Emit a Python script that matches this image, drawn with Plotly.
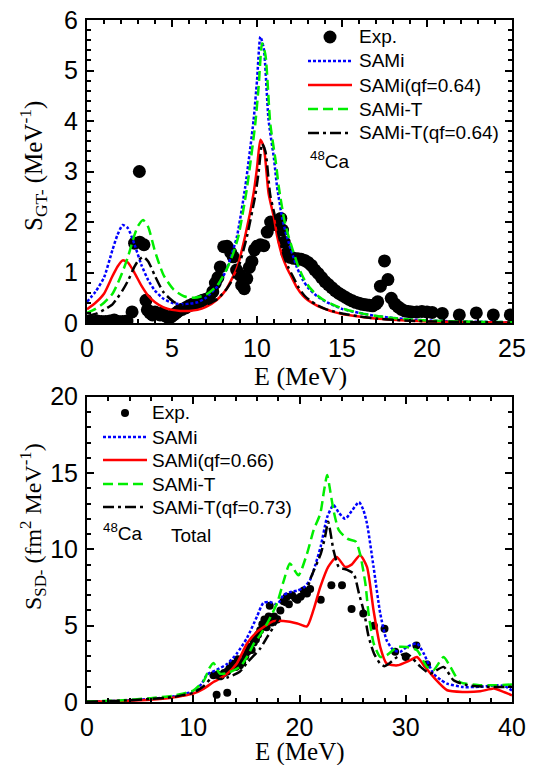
import plotly.graph_objects as go

# ---------------- Top panel data (GT-) ----------------
E_gt_sami = [0, 0.5, 1.0, 1.5, 1.8, 2.1, 2.4, 2.8, 3.2, 3.6, 4.0, 4.5, 5.0, 5.5, 6.0, 6.5, 7.0, 7.65, 8.2,
             8.53, 8.82, 9.31, 9.8, 10.0, 10.2, 10.4, 10.68, 11.0, 11.18, 11.5, 11.76, 12.0, 12.35, 12.7,
             13.0, 13.5, 14.0, 14.5, 15.0, 16.0, 17.0, 18.0, 19.0, 20.0, 22.0, 25.0]
S_gt_sami = [0.42, 0.62, 0.9, 1.45, 1.75, 1.94, 1.88, 1.55, 1.15, 0.85, 0.64, 0.48, 0.4, 0.37, 0.38, 0.41,
             0.5, 0.72, 1.05, 1.38, 1.71, 2.7, 4.02, 4.8, 5.67, 5.43, 4.02, 3.25, 2.7, 2.05, 1.71, 1.45,
             1.1, 0.85, 0.7, 0.54, 0.43, 0.35, 0.28, 0.2, 0.14, 0.1, 0.07, 0.05, 0.03, 0.015]
S_gt_sami_qf = [0.27, 0.4, 0.58, 0.93, 1.12, 1.24, 1.2, 0.99, 0.74, 0.54, 0.41, 0.31, 0.26, 0.24, 0.24, 0.26,
                0.32, 0.46, 0.67, 0.88, 1.09, 1.73, 2.57, 3.07, 3.63, 3.48, 2.57, 2.08, 1.73, 1.31, 1.09,
                0.93, 0.7, 0.54, 0.45, 0.35, 0.28, 0.22, 0.18, 0.13, 0.09, 0.064, 0.045, 0.032, 0.019, 0.01]

E_gt_samit = [0, 0.5, 1.0, 1.5, 1.8, 2.1, 2.4, 2.8, 3.0, 3.3, 3.6, 4.0, 4.5, 5.1, 5.7, 6.3, 7.0, 7.65, 8.2,
              8.6, 8.9, 9.4, 9.9, 10.1, 10.3, 10.5, 10.78, 11.1, 11.28, 11.6, 11.86, 12.1, 12.45, 12.8,
              13.1, 13.5, 14.0, 14.5, 15.0, 16.0, 17.0, 18.0, 19.0, 20.0, 22.0, 25.0]
S_gt_samit = [0.2, 0.28, 0.4, 0.58, 0.78, 1.02, 1.3, 1.75, 1.92, 2.04, 1.9, 1.42, 0.95, 0.66, 0.53, 0.5,
              0.56, 0.74, 1.05, 1.38, 1.71, 2.65, 3.95, 4.7, 5.54, 5.3, 3.95, 3.2, 2.7, 2.05, 1.71, 1.45,
              1.1, 0.85, 0.7, 0.56, 0.44, 0.36, 0.29, 0.2, 0.14, 0.1, 0.07, 0.05, 0.03, 0.015]
S_gt_samit_qf = [0.14, 0.18, 0.26, 0.37, 0.5, 0.65, 0.83, 1.12, 1.23, 1.31, 1.22, 0.93, 0.61, 0.42, 0.34,
                 0.32, 0.36, 0.47, 0.67, 0.88, 1.09, 1.7, 2.53, 3.0, 3.55, 3.39, 2.53, 2.05, 1.73, 1.31,
                 1.09, 0.93, 0.7, 0.54, 0.45, 0.36, 0.28, 0.23, 0.19, 0.13, 0.09, 0.064, 0.045, 0.032,
                 0.019, 0.01]

E_gt_exp = [0.1, 0.35, 0.6, 0.85, 1.1, 1.35, 1.6, 1.85, 2.1, 2.35, 2.65, 2.8, 3.08, 3.1, 3.35, 3.47, 3.55,
            3.7, 3.85, 4.0, 4.15, 4.3, 4.45, 4.6, 4.8, 4.95, 5.1, 5.25, 5.4, 5.6, 5.8, 6.0, 6.2, 6.4, 6.6,
            6.8, 7.0, 7.2, 7.4, 7.55, 7.7, 7.84, 8.04, 8.24, 8.45, 8.6, 8.8, 9.0, 9.1, 9.25, 9.4, 9.55,
            9.7, 9.85, 10.0, 10.2, 10.4, 10.6, 10.8, 11.0, 11.2, 11.4, 11.5, 11.6, 11.76, 11.96, 12.16,
            12.4, 12.6, 12.8, 13.0, 13.2, 13.4, 13.6, 13.8, 14.0, 14.2, 14.4, 14.6, 14.8, 15.0, 15.2,
            15.4, 15.6, 15.8, 16.0, 16.2, 16.4, 16.6, 16.8, 17.0, 17.1, 17.26, 17.5, 17.7, 17.9, 18.1,
            18.3, 18.5, 18.7, 18.9, 19.1, 19.4, 19.7, 20.0, 20.3, 20.9, 21.9, 22.9, 23.9, 24.9]
S_gt_exp = [0.03, 0.03, 0.04, 0.03, 0.03, 0.04, 0.06, 0.03, 0.03, 0.04, 0.22, 1.58, 3.0, 1.6, 1.55, 0.45,
            0.26, 0.2, 0.16, 0.22, 0.18, 0.16, 0.2, 0.14, 0.1, 0.12, 0.16, 0.2, 0.24, 0.27, 0.3, 0.34,
            0.37, 0.39, 0.42, 0.45, 0.47, 0.5, 0.62, 0.79, 0.9, 1.11, 1.51, 1.52, 1.4, 1.31, 1.05, 0.95,
            0.75, 0.68, 0.88, 1.1, 1.22, 1.45, 1.52, 1.55, 1.53, 1.8, 2.0, 1.95, 2.0, 2.07, 1.84, 1.6,
            1.38, 1.3, 1.28, 1.27, 1.26, 1.24, 1.2, 1.14, 1.05, 0.98, 0.9, 0.82, 0.76, 0.7, 0.64, 0.59,
            0.55, 0.51, 0.47, 0.44, 0.41, 0.39, 0.37, 0.36, 0.35, 0.34, 0.38, 0.42, 0.73, 1.23, 0.86,
            0.49, 0.38, 0.32, 0.27, 0.24, 0.23, 0.22, 0.22, 0.23, 0.22, 0.21, 0.19, 0.16, 0.2, 0.16, 0.16]

# ---------------- Bottom panel data (SD-) ----------------
E_sd_sami = [0, 3, 6, 8, 9, 10, 10.8, 11.3, 12.2, 13.2, 14.1, 15.06, 16.0, 16.6, 17.2, 17.9, 18.5, 19.1,
             19.8, 20.4, 21.0, 21.5, 22.0, 22.6, 23.2, 23.7, 24.3, 24.9, 25.6, 26.0, 26.35, 26.97, 27.6,
             28.2, 28.85, 29.5, 30.1, 31.06, 31.7, 32.6, 33.3, 33.9, 35.4, 37.0, 38.6, 39.3, 40.0]
S_sd_sami = [0.02, 0.08, 0.2, 0.35, 0.5, 0.7, 1.2, 1.8, 2.1, 2.5, 3.17, 4.2, 5.6, 6.5, 6.55, 6.4, 7.0,
             7.2, 7.3, 7.5, 8.0, 9.0, 10.2, 12.1, 12.9, 12.4, 12.0, 12.5, 13.1, 12.6, 11.7, 8.85, 5.8,
             4.05, 3.39, 3.3, 3.6, 3.83, 3.17, 1.86, 1.45, 1.2, 0.98, 1.0, 1.1, 1.05, 0.75]

E_sd_sami_qf = [0, 3, 6, 8, 9, 10, 11.0, 11.9, 12.5, 13.2, 14.1, 15.06, 16.0, 16.6, 17.56, 18.5, 19.8,
                20.7, 21.3, 21.96, 22.7, 23.5, 24.3, 24.9, 25.7, 26.35, 26.97, 27.6, 28.2, 29.2, 30.4,
                31.06, 31.7, 32.6, 33.9, 35.4, 37.0, 38.3, 39.2, 40.0]
S_sd_sami_qf = [0.02, 0.06, 0.15, 0.28, 0.4, 0.55, 0.88, 1.31, 1.53, 1.86, 2.52, 3.83, 4.6, 4.9, 5.3, 5.3,
                5.14, 4.95, 6.0, 7.54, 8.85, 9.5, 8.85, 9.0, 9.62, 8.85, 6.0, 3.6, 2.52, 2.4, 2.73, 2.95,
                2.4, 1.64, 0.77, 0.66, 0.7, 0.88, 0.66, 0.44]

E_sd_samit = [0, 3, 6, 8, 9, 10, 11.0, 11.5, 11.9, 12.5, 13.2, 14.4, 15.1, 15.7, 16.3, 17.0, 17.9, 18.5,
              19.1, 19.9, 20.7, 21.33, 21.96, 22.3, 22.6, 22.9, 23.2, 23.7, 24.5, 25.3, 25.7, 26.2, 26.5,
              27.0, 27.6, 28.2, 29.2, 30.1, 31.06, 32.0, 32.6, 33.56, 34.2, 35.1, 37.0, 38.5, 40.0]
S_sd_samit = [0.03, 0.1, 0.25, 0.4, 0.55, 0.75, 1.4, 2.2, 2.56, 1.86, 1.9, 2.3, 3.0, 3.83, 4.4, 5.2, 6.5,
              7.9, 9.07, 8.3, 9.7, 11.26, 12.35, 13.8, 14.87, 13.8, 12.57, 11.26, 10.7, 10.5, 9.7, 7.76,
              5.8, 3.8, 2.95, 3.06, 3.6, 3.6, 3.39, 2.3, 2.08, 2.95, 2.3, 1.31, 1.1, 1.1, 1.15]

E_sd_samit_qf = [0, 3, 6, 8, 9, 10, 11.0, 11.9, 12.5, 13.2, 14.4, 15.1, 16.3, 17.0, 17.9, 18.5, 19.1, 19.8,
                 20.4, 21.1, 22.0, 22.4, 22.7, 23.2, 23.7, 24.5, 25.1, 25.6, 26.1, 26.5, 27.0, 27.6, 28.0,
                 28.4, 29.2, 30.1, 31.4, 32.3, 33.56, 34.5, 35.8, 38.3, 40.0]
S_sd_samit_qf = [0.02, 0.08, 0.2, 0.32, 0.45, 0.6, 1.05, 1.7, 1.5, 1.6, 2.0, 2.6, 3.5, 4.3, 5.3, 6.3, 6.9,
                 6.9, 6.9, 8.2, 9.7, 10.8, 11.8, 9.95, 8.85, 8.65, 8.4, 7.1, 5.8, 4.3, 3.2, 2.5, 2.35,
                 2.5, 2.95, 3.17, 2.3, 1.86, 2.3, 1.42, 1.1, 0.98, 1.0]

E_sd_exp = [11.9, 12.2, 12.3, 12.6, 12.9, 13.2, 13.2, 13.4, 13.7, 14.0, 14.2, 14.4, 14.6, 14.9, 15.1, 15.3,
            15.5, 15.7, 15.9, 16.1, 16.3, 16.5, 16.7, 16.9, 17.1, 17.2, 17.4, 17.6, 17.9, 18.2, 18.5, 18.8,
            19.0, 19.3, 19.6, 19.8, 20.1, 20.4, 20.7, 21.0, 22.0, 23.0, 24.0, 24.9, 26.0, 27.0, 28.0,
            29.0, 30.0, 31.0, 32.0]
S_sd_exp = [1.75, 0.48, 1.8, 1.7, 1.9, 2.0, 0.61, 2.2, 2.5, 2.3, 2.8, 2.4, 2.6, 3.0, 3.3, 3.6, 3.4, 3.9,
            4.1, 4.4, 4.7, 5.1, 5.4, 4.9, 5.6, 6.3, 5.2, 5.6, 5.4, 6.0, 6.6, 6.9, 6.4, 7.0, 6.8, 6.7, 6.9,
            7.3, 7.1, 7.4, 6.7, 7.65, 7.65, 6.1, 5.8, 5.0, 4.8, 3.3, 2.95, 3.7, 2.45]

# ---------------- Styles ----------------
BLUE, RED, GREEN, BLACK = "#0000ff", "#ff0000", "#00ee00", "#000000"
DOT, SOLID, DASH, DASHDOT = "3px,2px", "solid", "10px,5px", "11px,4px,3px,4px"
LW = 2.5
SANS = "Liberation Sans, Arial, sans-serif"
SERIF = "Liberation Serif, Times New Roman, serif"

fig = go.Figure()

# top panel
fig.add_trace(go.Scatter(x=E_gt_exp, y=S_gt_exp, mode="markers", name="Exp.",
                         marker=dict(color=BLACK, size=13), xaxis="x", yaxis="y"))
for xs, ys, c, d, n in [(E_gt_sami, S_gt_sami, BLUE, DOT, "SAMi"),
                        (E_gt_sami, S_gt_sami_qf, RED, SOLID, "SAMi(qf=0.64)"),
                        (E_gt_samit, S_gt_samit, GREEN, DASH, "SAMi-T"),
                        (E_gt_samit, S_gt_samit_qf, BLACK, DASHDOT, "SAMi-T(qf=0.64)")]:
    fig.add_trace(go.Scatter(x=xs, y=ys, mode="lines", name=n,
                             line=dict(color=c, width=LW, dash=d, shape="spline", smoothing=0.6),
                             xaxis="x", yaxis="y"))

# bottom panel
fig.add_trace(go.Scatter(x=E_sd_exp, y=S_sd_exp, mode="markers", name="Exp.",
                         marker=dict(color=BLACK, size=8), xaxis="x2", yaxis="y2"))
for xs, ys, c, d, n in [(E_sd_sami, S_sd_sami, BLUE, DOT, "SAMi"),
                        (E_sd_sami_qf, S_sd_sami_qf, RED, SOLID, "SAMi(qf=0.66)"),
                        (E_sd_samit, S_sd_samit, GREEN, DASH, "SAMi-T"),
                        (E_sd_samit_qf, S_sd_samit_qf, BLACK, DASHDOT, "SAMi-T(qf=0.73)")]:
    fig.add_trace(go.Scatter(x=xs, y=ys, mode="lines", name=n,
                             line=dict(color=c, width=LW, dash=d, shape="spline", smoothing=0.6),
                             xaxis="x2", yaxis="y2"))

# ---------------- Layout ----------------
# The page body has an 8px default margin, so the figure is made 8px smaller
# and all screen positions below are given in window pixels.
OFF = 8
W, H = 535 - OFF, 765 - OFF
X0, X1 = 87, 512          # plot area left/right in window pixels
Y0, Y1 = 20, 702          # plot area top/bottom in window pixels
ML, MR, MT, MB = X0 - OFF, W + OFF - X1, Y0 - OFF, H + OFF - Y1
PW, PH = X1 - X0, Y1 - Y0


def px2x(px):
    return (px - X0) / PW


def py2y(py):
    return (Y1 - py) / PH


def axis(rng, dtick, mdtick, domain, anchor):
    return dict(range=rng, domain=domain, anchor=anchor, dtick=dtick, tick0=0, automargin=False,
                showline=True, linecolor="black", linewidth=2, mirror="ticks",
                ticks="inside", ticklen=7, tickwidth=1.5, tickcolor="black",
                minor=dict(ticks="inside", dtick=mdtick, ticklen=4, tickwidth=1.5, tickcolor="black"),
                showgrid=False, zeroline=False, ticklabelstandoff=2, ticklabeloverflow="allow",
                tickfont=dict(family=SANS, size=25, color="black"))


top_dom = [py2y(323), 1.0]
bot_dom = [0.0, py2y(396.7)]

fig.update_layout(
    width=W, height=H, margin=dict(l=ML, r=MR, t=MT, b=MB, autoexpand=False),
    plot_bgcolor="white", paper_bgcolor="white", showlegend=False,
    xaxis=axis([0, 25], 5, 1, [0, 1], "y"),
    yaxis=axis([0, 6], 1, 0.2, top_dom, "x"),
    xaxis2=axis([0, 40], 10, 2, [0, 1], "y2"),
    yaxis2=axis([0, 20], 5, 1, bot_dom, "x2"),
)

ann = []
shapes = []
# axis titles
ann.append(dict(text="E (MeV)", x=px2x(300), y=py2y(376), xref="paper", yref="paper",
                showarrow=False, font=dict(family=SERIF, size=26, color="black"),
                xanchor="center", yanchor="middle"))
ann.append(dict(text="E (MeV)", x=px2x(300), y=py2y(752), xref="paper", yref="paper",
                showarrow=False, font=dict(family=SERIF, size=25, color="black"),
                xanchor="center", yanchor="middle"))
ann.append(dict(text="S<sub>GT-</sub> (MeV<sup>-1</sup>)", x=px2x(33), y=py2y(166),
                xref="paper", yref="paper", showarrow=False, textangle=-90,
                font=dict(family=SERIF, size=25, color="black"), xanchor="center", yanchor="middle"))
ann.append(dict(text="S<sub>SD-</sub> (fm<sup>2</sup> MeV<sup>-1</sup>)", x=px2x(33), y=py2y(527),
                xref="paper", yref="paper", showarrow=False, textangle=-90,
                font=dict(family=SERIF, size=24, color="black"), xanchor="center", yanchor="middle"))


def legend(rows, x_line0, x_line1, x_text, labels, styles, msize):
    for py, lab, st in zip(rows, labels, styles):
        ann.append(dict(text=lab, x=px2x(x_text), y=py2y(py), xref="paper", yref="paper",
                        showarrow=False, xanchor="left", yanchor="middle",
                        font=dict(family=SANS, size=19, color="black")))
        if st is None:
            cx = (x_line0 + x_line1) / 2
            r = msize / 2
            shapes.append(dict(type="circle", xref="paper", yref="paper",
                               x0=px2x(cx - r), x1=px2x(cx + r), y0=py2y(py + r), y1=py2y(py - r),
                               fillcolor="black", line=dict(width=0)))
        else:
            c, d = st
            shapes.append(dict(type="line", xref="paper", yref="paper",
                               x0=px2x(x_line0), x1=px2x(x_line1), y0=py2y(py), y1=py2y(py),
                               line=dict(color=c, width=LW, dash=d)))


styles = [None, (BLUE, DOT), (RED, SOLID), (GREEN, DASH), (BLACK, DASHDOT)]
legend([37, 61, 85, 109, 133], 308, 352, 357,
       ["Exp.", "SAMi", "SAMi(qf=0.64)", "SAMi-T", "SAMi-T(qf=0.64)"], styles, 13)
legend([413, 437, 460, 484, 507], 103, 147, 150,
       ["Exp.", "SAMi", "SAMi(qf=0.66)", "SAMi-T", "SAMi-T(qf=0.73)"], styles, 8)

ann.append(dict(text="<sup>48</sup>Ca", x=px2x(308), y=py2y(160), xref="paper", yref="paper",
                showarrow=False, xanchor="left", yanchor="middle",
                font=dict(family=SANS, size=19, color="black")))
ann.append(dict(text="<sup>48</sup>Ca", x=px2x(101), y=py2y(532), xref="paper", yref="paper",
                showarrow=False, xanchor="left", yanchor="middle",
                font=dict(family=SANS, size=19, color="black")))
ann.append(dict(text="Total", x=px2x(169), y=py2y(535), xref="paper", yref="paper",
                showarrow=False, xanchor="left", yanchor="middle",
                font=dict(family=SANS, size=19, color="black")))

fig.update_layout(annotations=ann, shapes=shapes)
fig.write_html("out.html")
